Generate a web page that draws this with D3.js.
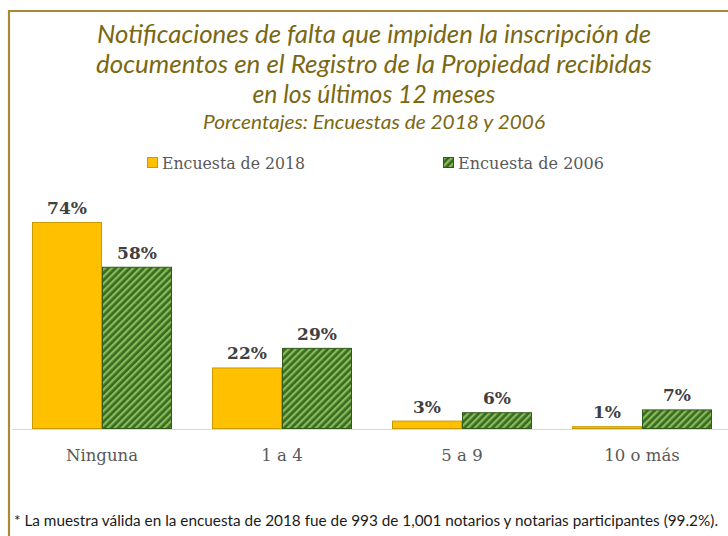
<!DOCTYPE html>
<html><head><meta charset="utf-8">
<script src="https://cdn.jsdelivr.net/npm/d3@7/dist/d3.min.js"></script>
<style>html,body{margin:0;padding:0;background:#fff;}svg{display:block;}</style>
</head><body>
<script>
const categories = ["Ninguna", "1 a 4", "5 a 9", "10 o más"];
const seriesNames = ["Encuesta de 2018", "Encuesta de 2006"];
const values2018 = [74, 22, 3, 1];
const values2006 = [58, 29, 6, 7];
const titleLines = ["Notificaciones de falta que impiden la inscripción de",
  "documentos en el Registro de la Propiedad recibidas",
  "en los últimos 12 meses"];
const subtitle = "Porcentajes: Encuestas de 2018 y 2006";
const footnote = "* La muestra válida en la encuesta de 2018 fue de 993 de 1,001 notarios y notarias participantes (99.2%).";

const W = 728, H = 536;
const svg = d3.select("body").append("svg").attr("width", W).attr("height", H);

const defs = svg.append("defs");
const pat = defs.append("pattern").attr("id", "hatch").attr("patternUnits", "userSpaceOnUse")
  .attr("width", 5).attr("height", 5).attr("patternTransform", "rotate(45)");
pat.append("rect").attr("width", 5).attr("height", 5).attr("fill", "#3b6a1f");
pat.append("rect").attr("x", 0).attr("width", 2.3).attr("height", 5).attr("fill", "#86bb5c");

// frame
svg.append("path").attr("d", `M9,${H} L9,11 L${W},11`).attr("fill", "none")
  .attr("stroke", "#a88a36").attr("stroke-width", 2.2);

const serif = "'DejaVu Serif', 'Liberation Serif', serif";
const human = "Lato, 'Open Sans', sans-serif";

// title
const tY = [35, 65, 95];
const tW = [554, 556, 243];
titleLines.forEach((t, i) => {
  svg.append("text").attr("x", 374).attr("y", tY[i] + 8).attr("text-anchor", "middle")
    .attr("font-family", human).attr("font-style", "italic").attr("font-size", 25)
    .attr("fill", "#7a6812").attr("textLength", tW[i]).attr("lengthAdjust", "spacingAndGlyphs")
    .text(t);
});
svg.append("text").attr("x", 374).attr("y", 129).attr("text-anchor", "middle")
  .attr("font-family", human).attr("font-style", "italic").attr("font-size", 20)
  .attr("fill", "#7a6812").attr("textLength", 342).attr("lengthAdjust", "spacingAndGlyphs")
  .text(subtitle);

// scales
const x0 = d3.scaleBand().domain(categories).range([12, 732]).paddingInner(0.2222).paddingOuter(0.111);
const x1 = d3.scaleBand().domain(seriesNames).range([0, x0.bandwidth()]);
const y = d3.scaleLinear().domain([0, 74]).range([429, 222]);

const data = categories.map((c, i) => ({cat: c, vals: [values2018[i], values2006[i]]}));
const fills = ["#ffc000", "url(#hatch)"];
const strokes = ["#c99a00", "#2f5a17"];

// axis baseline
svg.append("line").attr("x1", 12).attr("x2", W).attr("y1", y(0) + 0.5).attr("y2", y(0) + 0.5)
  .attr("stroke", "#d9d9d9").attr("stroke-width", 1);

const g = svg.append("g").selectAll("g").data(data).join("g")
  .attr("transform", d => `translate(${x0(d.cat)},0)`);
g.selectAll("rect").data(d => d.vals.map((v, j) => ({v, j}))).join("rect")
  .attr("x", d => x1(seriesNames[d.j]) + 0.5)
  .attr("y", d => y(d.v) + 0.5)
  .attr("width", x1.bandwidth() - 1)
  .attr("height", d => Math.max(0, y(0) - y(d.v) - 1))
  .attr("fill", d => fills[d.j]).attr("stroke", d => strokes[d.j]).attr("stroke-width", 1);
g.selectAll("text.val").data(d => d.vals.map((v, j) => ({v, j}))).join("text")
  .attr("class", "val")
  .attr("x", d => x1(seriesNames[d.j]) + x1.bandwidth() / 2)
  .attr("y", d => y(d.v) - 8)
  .attr("text-anchor", "middle").attr("font-family", serif).attr("font-weight", "bold")
  .attr("font-size", 17).attr("fill", "#404040").text(d => d.v + "%");

// category axis labels
const xAxis = d3.axisBottom(x0).tickSize(0).tickPadding(0);
const ax = svg.append("g").attr("transform", `translate(0,${y(0)})`).call(xAxis);
ax.select(".domain").remove();
ax.selectAll("text").attr("dy", null).attr("y", 32).attr("font-family", serif)
  .attr("font-size", 16.5).attr("fill", "#595959");
ax.selectAll(".tick").attr("transform", d => `translate(${x0(d) + x0.bandwidth() / 2},0)`);

// legend
const legX = [147, 443];
const legW = [143, 146];
seriesNames.forEach((s, i) => {
  svg.append("rect").attr("x", legX[i] + 0.5).attr("y", 157.5).attr("width", 10).attr("height", 10)
    .attr("fill", fills[i]).attr("stroke", strokes[i]);
  svg.append("text").attr("x", legX[i] + 15).attr("y", 169).attr("font-family", serif)
    .attr("font-size", 17).attr("fill", "#595959")
    .attr("textLength", legW[i]).attr("lengthAdjust", "spacingAndGlyphs").text(s);
});

// footnote
svg.append("text").attr("x", 14).attr("y", 526).attr("font-family", human).attr("font-size", 14.5)
  .attr("fill", "#1a1a1a").attr("textLength", 704).attr("lengthAdjust", "spacingAndGlyphs").text(footnote);
</script>
</body></html>
